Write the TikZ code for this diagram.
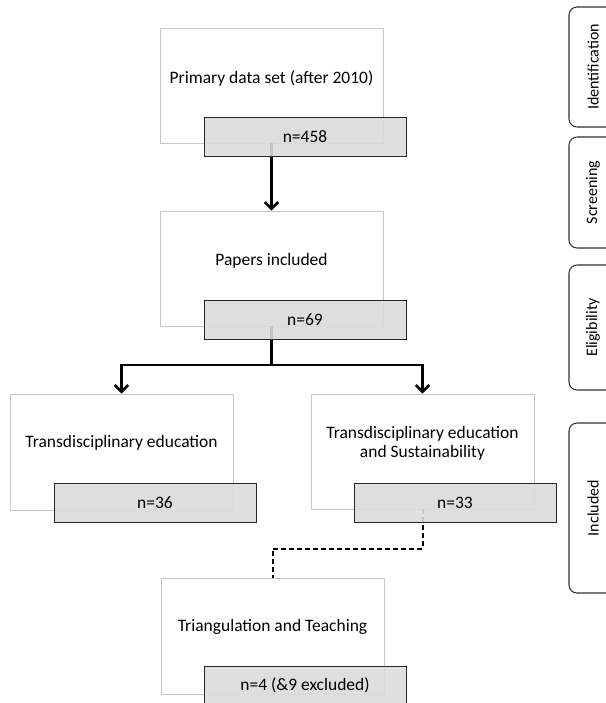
\documentclass[tikz,border=0pt]{standalone}
\usepackage{fontspec}
\setmainfont{Carlito}
\usetikzlibrary{arrows.meta,shadows}
\begin{document}
\begin{tikzpicture}[x=0.75pt,y=-0.75pt,
 wbox/.style={draw=black!22, line width=0.6pt, fill=white, minimum width=167.25pt, minimum height=86.25pt, inner sep=0pt,
   drop shadow={shadow xshift=1pt, shadow yshift=-1pt, opacity=0.25, fill=black}},
 gbox/.style={draw=black!85, line width=0.7pt, fill=black!14, fill opacity=0.9, text opacity=1,
   minimum width=151.5pt, minimum height=29.25pt, inner sep=0pt, font=\fontsize{13.1}{15.5}\selectfont},
 lbl/.style={font=\fontsize{13.1}{14.25}\selectfont, align=center, inner sep=0pt},
 conn/.style={line width=2pt, -{Straight Barb[length=5pt,width=10pt]}},
 dconn/.style={line width=1.5pt, dash pattern=on 3.75pt off 2.25pt},
 side/.style={draw=black!80, line width=0.8pt, rounded corners=6pt, minimum width=42pt, inner sep=0pt},
 sidelbl/.style={rotate=90, font=\fontsize{12}{14}\selectfont, inner sep=0pt}
]
\useasboundingbox (0,0) rectangle (606,703);

% white boxes
\node[wbox] (b1) at (271.5,85.5) {};
\node[wbox] (b2) at (271.5,268.5) {};
\node[wbox, minimum height=87pt] (b3) at (121.5,452) {};
\node[wbox] (b4) at (422.5,451.5) {};
\node[wbox, minimum height=87pt] (b5) at (272.5,636) {};

% texts
\node[lbl] (t1) at (271.5,79) {Primary data set (after 2010)};
\node[lbl] (t2) at (271.5,261) {Papers included};
\node[lbl] (t3) at (121.5,443) {Transdisciplinary education};
\node[lbl] (t4) at (422.5,443.5) {Transdisciplinary education\\and Sustainability};
\node[lbl] (t5) at (272.5,627) {Triangulation and Teaching};

% connectors
\coordinate (sy) at (0,365);
\coordinate (split) at (b2.south |- sy);
\coordinate (dy) at (0,549);
\draw[conn] (b1.south) -- (b2.north);
\draw[line width=2pt] (b2.south) -- (split);
\draw[conn] (split) -| (b3.north);
\draw[conn] (split) -| (b4.north);
\draw[dconn] (b4.south) -- (b4.south |- dy) -| (b5.north);

% grey count boxes
\node[gbox] (g1) at (305,136.5) {n=458};
\node[gbox] (g2) at (305,320) {n=69};
\node[gbox] (g3) at (155,502.5) {n=36};
\node[gbox] (g4) at (455,503) {n=33};
\node[gbox] (g5) at (305,685.5) {n=4 (\&9 excluded)};

% side stage boxes
\node[side, minimum height=90pt] (s1) at (597,67) {};
\node[side, minimum height=83.25pt] (s2) at (597,192.5) {};
\node[side, minimum height=93.75pt] (s3) at (597,327.5) {};
\node[side, minimum height=127.5pt] (s4) at (597,508) {};
\node[sidelbl] (l1) at (593,67) {Identification};
\node[sidelbl] (l2) at (593,192.5) {Screening};
\node[sidelbl] (l3) at (593,327.5) {Eligibility};
\node[sidelbl] (l4) at (593,508) {Included};
\end{tikzpicture}
\end{document}
